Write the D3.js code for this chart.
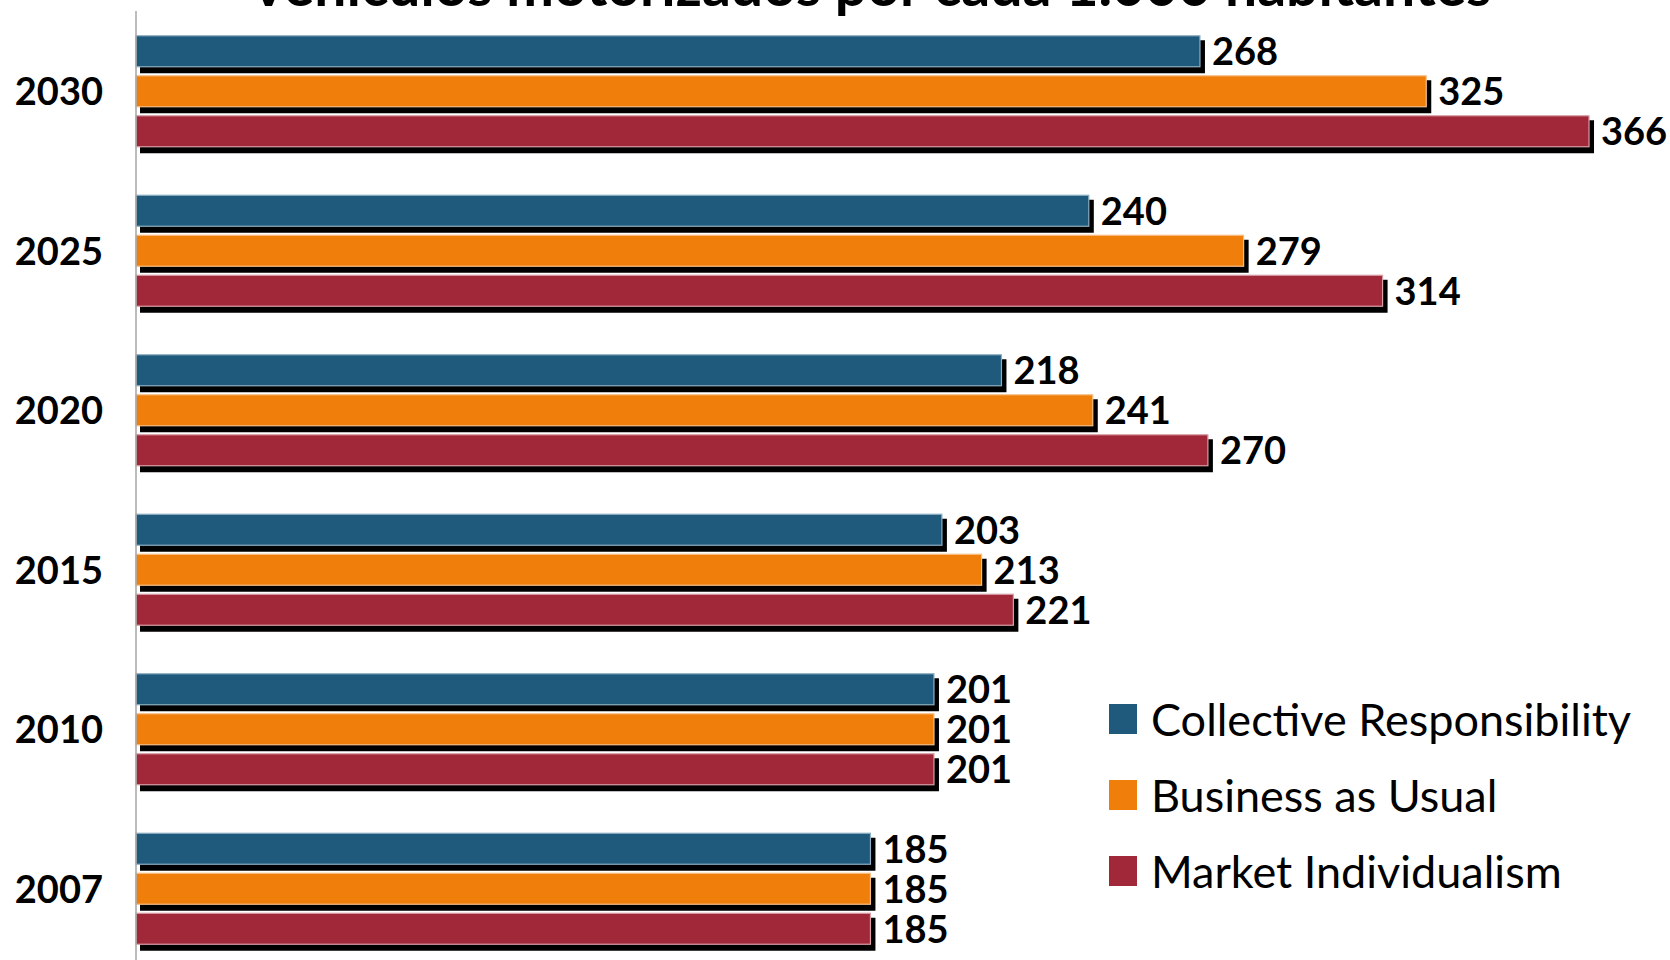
<!DOCTYPE html>
<html>
<head>
<meta charset="utf-8">
<script src="https://cdn.jsdelivr.net/npm/d3@7"></script>
<style>
    body { margin: 0; background: #fff; }
    svg { display: block; }
</style>
</head>
<body>
<div id="chart"></div>
<script>
(function () {
    var width = 1670,
        height = 960;

    // data
    var years = ["2030", "2025", "2020", "2015", "2010", "2007"];
    var series = ["Collective Responsibility", "Business as Usual", "Market Individualism"];
    var collective = [268, 240, 218, 203, 201, 185];
    var business = [325, 279, 241, 213, 201, 185];
    var market = [366, 314, 270, 221, 201, 185];
    var colors = ["#1f597c", "#ef7f0a", "#a02839"];
    var edges = ["#8fb0c4", "#f7c08a", "#d9a0a8"];

    var rows = [];
    years.forEach(function (y, i) {
        [collective, business, market].forEach(function (arr, j) {
            rows.push({ year: y, series: series[j], value: arr[i], k: j });
        });
    });

    var svg = d3.select("#chart")
        .append("svg")
        .attr("width", width)
        .attr("height", height);

    var y0 = d3.scaleBand().domain(years).range([11.5, 968.5]);
    var y1 = d3.scaleBand().domain(series).range([24.25, 135.25]).paddingInner(0.225);
    var x = d3.scaleLinear().domain([0, 400]).range([136, 136 + 400 * 3.97]);
    var color = d3.scaleOrdinal().domain(series).range(colors);
    var edge = d3.scaleOrdinal().domain(series).range(edges);

    // title (mostly cut off at the top)
    svg.append("text")
        .attr("x", 870)
        .attr("y", 6)
        .attr("text-anchor", "middle")
        .style("font-family", "Lato, 'Open Sans', sans-serif")
        .style("font-weight", "bold")
        .style("font-size", "57px")
        .text("Vehículos motorizados por cada 1.000 habitantes");

    var bars = svg.selectAll(".bar")
        .data(rows)
        .enter().append("g")
        .attr("class", "bar")
        .attr("transform", function (d) { return "translate(0," + (y0(d.year) + y1(d.series)) + ")"; });

    // shadow
    bars.append("rect")
        .attr("x", x(0) + 4)
        .attr("y", 4.5)
        .attr("width", function (d) { return x(d.value) - x(0) + 1; })
        .attr("height", y1.bandwidth() + 2)
        .attr("fill", "#000");

    bars.append("rect")
        .attr("x", x(0))
        .attr("y", 0)
        .attr("width", function (d) { return x(d.value) - x(0); })
        .attr("height", y1.bandwidth())
        .attr("fill", function (d) { return color(d.series); })
        .attr("stroke", function (d) { return edge(d.series); })
        .attr("stroke-width", 1.2);

    bars.append("text")
        .attr("x", function (d) { return x(d.value) + 12; })
        .attr("y", y1.bandwidth() / 2 + 14)
        .style("font-family", "Lato, 'Open Sans', sans-serif")
        .style("font-weight", "bold")
        .style("font-size", "38px")
        .text(function (d) { return d.value; });

    // axis line
    svg.append("line")
        .attr("x1", x(0)).attr("x2", x(0))
        .attr("y1", 11).attr("y2", height)
        .attr("stroke", "#a6a6a6")
        .attr("stroke-width", 1.5);

    // year labels
    svg.selectAll(".year")
        .data(years)
        .enter().append("text")
        .attr("class", "year")
        .attr("x", 103)
        .attr("y", function (d) { return y0(d) + y0.bandwidth() / 2 + 14; })
        .attr("text-anchor", "end")
        .style("font-family", "Lato, 'Open Sans', sans-serif")
        .style("font-weight", "bold")
        .style("font-size", "38px")
        .text(function (d) { return d; });

    // legend
    var legend = svg.selectAll(".legend")
        .data(series)
        .enter().append("g")
        .attr("class", "legend")
        .attr("transform", function (d, i) { return "translate(1109," + (704 + i * 76) + ")"; });

    legend.append("rect")
        .attr("width", 28)
        .attr("height", 30)
        .attr("fill", function (d) { return color(d); });

    legend.append("text")
        .attr("x", 42)
        .attr("y", 32)
        .style("font-family", "Lato, 'Open Sans', sans-serif")
        .style("font-size", "45px")
        .text(function (d) { return d; });
})();
</script>
</body>
</html>
